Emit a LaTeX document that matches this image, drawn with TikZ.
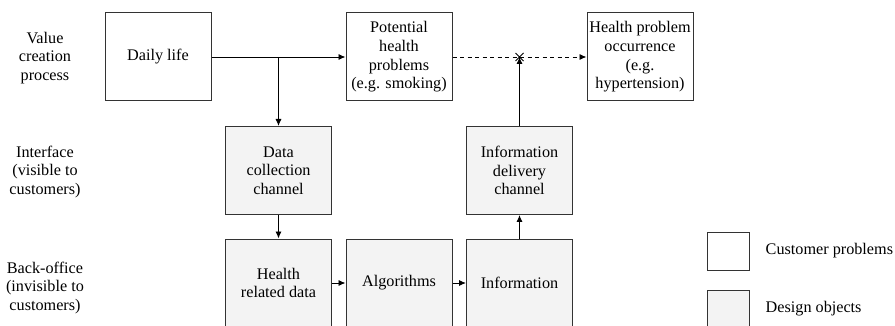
\documentclass[tikz,border=0pt]{standalone}
\usepackage{fontspec}
\setmainfont{Liberation Serif}
\usepackage{tikz}
\usetikzlibrary{arrows.meta,positioning}
\definecolor{boxline}{HTML}{333333}
\definecolor{designfill}{HTML}{F3F3F3}

\tikzset{
  txt/.style={font=\fontsize{16.2}{18.7}\selectfont, align=center},
  probbox/.style={txt, draw=boxline, line width=1pt, fill=white,
    minimum width=106pt, minimum height=88pt, inner sep=1pt},
  designbox/.style={probbox, fill=designfill},
  arr/.style={line width=0.9pt, -{Latex[length=7pt,width=6pt]}},
}

\begin{document}
\begin{tikzpicture}[x=1pt,y=-1pt]
\clip (0,0) rectangle (895,326);
% row labels
\node[txt] (lvalue) at (45,58) {Value\\creation\\process};
\node[txt] (linter) at (45,172) {Interface\\(visible to\\customers)};
\node[txt] (lback) at (45,288) {Back-office\\(invisible to\\customers)};
% boxes
\node[probbox] (daily) at (158,57) {Daily life};
\node[probbox] (potential) at (399,57) {Potential\\health\\problems\\(e.g. smoking)};
\node[probbox] (occurrence) at (640,57) {Health problem\\occurrence\\(e.g.\\hypertension)};
\node[designbox] (collection) at (278.5,170.5) {Data\\collection\\channel};
\node[designbox] (delivery) at (519.5,170.5) {Information\\delivery\\channel};
\node[designbox] (healthdata) at (278.5,283) {Health\\related data};
\node[designbox] (algorithms) at (399,283) {Algorithms};
\node[designbox] (information) at (519.5,283) {Information};
% connectors
\draw[arr] (daily.east) -- (potential.west);
\draw[arr] (collection.north |- daily.east) -- (collection.north);
\draw[arr] (collection.south) -- (healthdata.north);
\draw[arr] (healthdata.east) -- (algorithms.west);
\draw[arr] (algorithms.east) -- (information.west);
\draw[arr] (information.north) -- (delivery.south);
\coordinate (cross) at (delivery.north |- potential.east);
\draw[arr, dash pattern=on 4pt off 3.5pt] (potential.east) -- (occurrence.west);
\draw[arr] (delivery.north) -- (cross);
\draw[line width=0.9pt] ([shift={(-4,-4)}]cross) -- ([shift={(4,4)}]cross)
  ([shift={(-4,4)}]cross) -- ([shift={(4,-4)}]cross);
% legend
\node[probbox, minimum width=42pt, minimum height=38pt] (legprob) at (728,251) {};
\node[designbox, minimum width=42pt, minimum height=38pt] (legdesign) at (728,309) {};
\node[txt, anchor=west, inner sep=0pt, right=16pt of legprob] (legprobtxt) {Customer problems};
\node[txt, anchor=west, inner sep=0pt, right=16pt of legdesign] (legdesigntxt) {Design objects};
\end{tikzpicture}
\end{document}
